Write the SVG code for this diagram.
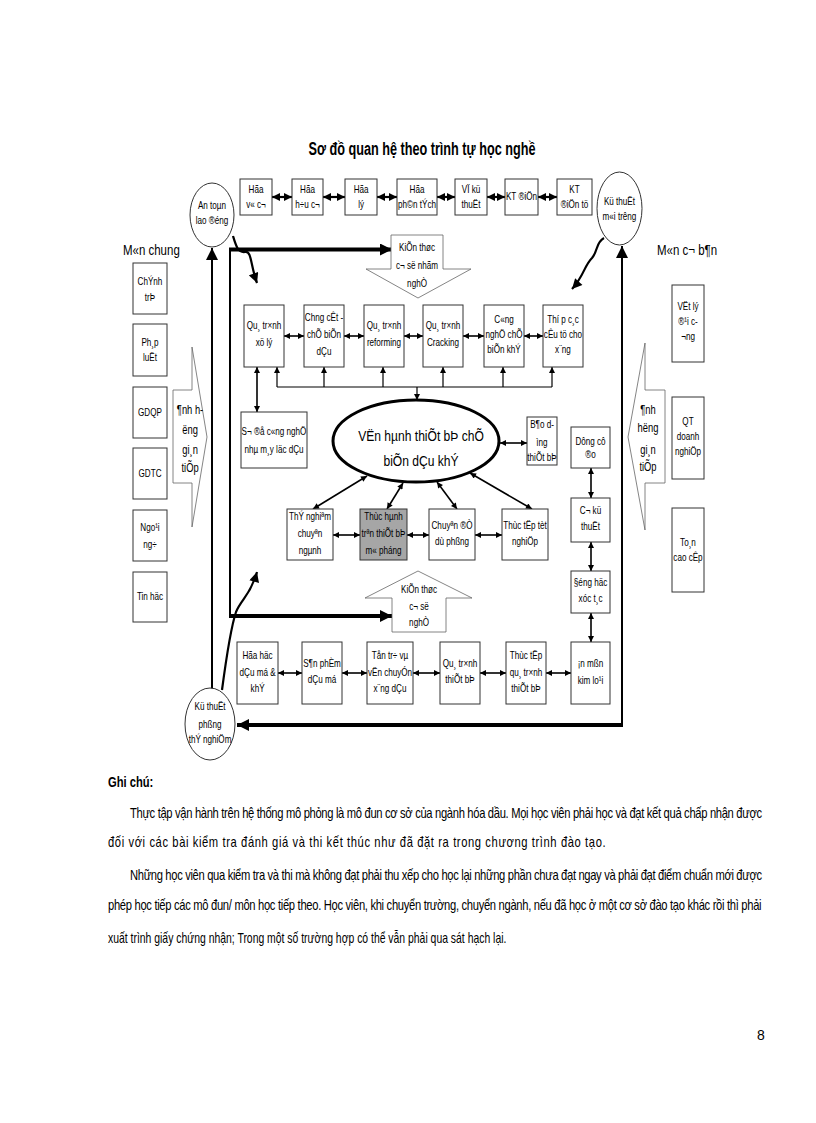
<svg xmlns="http://www.w3.org/2000/svg" width="816" height="1123" viewBox="0 0 816 1123">
<style>
.t{font-family:"Liberation Sans",Arial,sans-serif;font-size:10.4px;text-anchor:middle;fill:#000;transform-box:fill-box;transform-origin:center;transform:scaleX(0.78)}
.tl{font-size:12px}
.te{font-size:15.5px}
.th{font-family:"Liberation Sans",Arial,sans-serif;font-size:14px;fill:#000;transform-box:fill-box;transform-origin:left center;transform:scaleX(0.82)}
.n{font-family:"Liberation Sans",Arial,sans-serif;font-size:14px;fill:#000}
.box{fill:#fff;stroke:#333;stroke-width:1}
.gray{fill:#a6a6a6;stroke:#333;stroke-width:1}
.shape{fill:#fff;stroke:#666;stroke-width:0.8}
.c{fill:#fff;stroke:#333;stroke-width:1}
.a{stroke:#000;stroke-width:1.6;fill:none;marker-start:url(#ah);marker-end:url(#ah)}
.a1{stroke:#000;stroke-width:1.2;fill:none;marker-end:url(#ah)}
.aT{stroke:#000;stroke-width:2.2;fill:none;marker-start:url(#ahB);marker-end:url(#ahB)}
.thick{stroke:#000;stroke-width:4;fill:none}
.med{stroke:#000;stroke-width:2;fill:none}
.wave{stroke:#000;stroke-width:2.2;fill:none;marker-end:url(#ahW)}
</style>
<defs>
<marker id="ah" viewBox="0 0 10 10" refX="10" refY="5" markerWidth="7" markerHeight="6" markerUnits="userSpaceOnUse" orient="auto-start-reverse"><path d="M0,0 L10,5 L0,10 z" fill="#000"/></marker>
<marker id="ahB" viewBox="0 0 10 10" refX="10" refY="5" markerWidth="9" markerHeight="8" markerUnits="userSpaceOnUse" orient="auto-start-reverse"><path d="M0,0 L10,5 L0,10 z" fill="#000"/></marker>
<marker id="ahL" viewBox="0 0 10 10" refX="10" refY="5" markerWidth="14" markerHeight="12" markerUnits="userSpaceOnUse" orient="auto-start-reverse"><path d="M0,0 L10,5 L0,10 z" fill="#000"/></marker>
<marker id="ahW" viewBox="0 0 10 10" refX="10" refY="5" markerWidth="11" markerHeight="10" markerUnits="userSpaceOnUse" orient="auto"><path d="M0,0 L10,5 L0,10 z" fill="#000"/></marker>
</defs>
<rect width="816" height="1123" fill="#fff"/>

<text x="422" y="155" font-family="Liberation Sans, Arial, sans-serif" font-size="18" font-weight="bold" text-anchor="middle" textLength="227" lengthAdjust="spacingAndGlyphs">Sơ đồ quan hệ theo trình tự học nghề</text>

<g id="connectors">
  <line class="aT" x1="272" y1="197" x2="292" y2="197"/>
  <line class="aT" x1="323" y1="197" x2="345" y2="197"/>
  <line class="aT" x1="377" y1="197" x2="397" y2="197"/>
  <line class="aT" x1="437" y1="197" x2="455" y2="197"/>
  <line class="aT" x1="487" y1="197" x2="505" y2="197"/>
  <line class="aT" x1="538" y1="197" x2="557" y2="197"/>
  <line class="med" x1="230" y1="249" x2="230" y2="617"/>
  <line class="thick" x1="229" y1="249.5" x2="392" y2="249.5" marker-end="url(#ahL)"/>
  <line class="thick" x1="229" y1="616" x2="392" y2="616" marker-end="url(#ahL)"/>
  <line class="med" x1="212" y1="690" x2="212" y2="248" marker-end="url(#ahL)"/>
  <line class="med" x1="622" y1="726" x2="622" y2="246" marker-end="url(#ahL)"/>
  <line class="thick" x1="623" y1="725" x2="237" y2="725" marker-end="url(#ahL)"/>
  <path class="wave" d="M233 236 C236 246,238 253,245 252 C252 251,250 264,257 283"/>
  <path class="wave" d="M604 238 C596 242,598 251,592 258 C584 266,584 276,572 289"/>
  <path class="wave" d="M222 690 C226 660,230 630,236 612 C242 598,250 596,257 572"/>
  <line class="a" x1="284" y1="336" x2="304" y2="336"/>
  <line class="a" x1="344" y1="336" x2="364" y2="336"/>
  <line class="a" x1="404" y1="336" x2="423" y2="336"/>
  <line class="a" x1="463" y1="336" x2="484" y2="336"/>
  <line class="a" x1="524" y1="336" x2="543" y2="336"/>
  <line stroke="#000" stroke-width="1.2" x1="277" y1="387" x2="552" y2="387"/>
  <line class="a1" x1="277" y1="387" x2="277" y2="367"/>
  <line class="a1" x1="324" y1="387" x2="324" y2="367"/>
  <line class="a1" x1="383" y1="387" x2="383" y2="367"/>
  <line class="a1" x1="443" y1="387" x2="443" y2="367"/>
  <line class="a1" x1="503" y1="387" x2="503" y2="367"/>
  <line class="a1" x1="552" y1="387" x2="552" y2="367"/>
  <line class="a1" x1="417" y1="387" x2="417" y2="400"/>
  <line class="a" x1="257" y1="367" x2="257" y2="412"/>
  <line class="a" x1="500" y1="443" x2="527" y2="443"/>
  <line class="a" x1="367" y1="476" x2="313" y2="509"/>
  <line class="a" x1="403" y1="483" x2="387" y2="509"/>
  <line class="a" x1="437" y1="482" x2="457" y2="509"/>
  <line class="a" x1="470" y1="473" x2="532" y2="509"/>
  <line class="a" x1="333" y1="535" x2="360" y2="535"/>
  <line class="a" x1="407" y1="535" x2="429" y2="535"/>
  <line class="a" x1="475" y1="535" x2="502" y2="535"/>
  <line class="a" x1="591" y1="468" x2="591" y2="498"/>
  <line class="a" x1="591" y1="542" x2="591" y2="571"/>
  <line class="a" x1="591" y1="613" x2="591" y2="642"/>
  <line class="a" x1="278" y1="673" x2="302" y2="673"/>
  <line class="a" x1="342" y1="673" x2="367" y2="673"/>
  <line class="a" x1="413" y1="673" x2="440" y2="673"/>
  <line class="a" x1="480" y1="673" x2="506" y2="673"/>
  <line class="a" x1="546" y1="673" x2="571" y2="673"/>
</g>

<g id="an-toan">
  <ellipse class="c" cx="212" cy="215" rx="22" ry="32"/>
  <text class="t"><tspan x="212" y="209">An toµn</tspan><tspan x="212" y="224">lao ®éng</tspan></text>
</g>
<g id="ky-thuat-moi-truong">
  <ellipse class="c" cx="619.5" cy="208.5" rx="22.5" ry="36.5"/>
  <text class="t"><tspan x="619.5" y="205.5">Kü thuËt</tspan><tspan x="619.5" y="220.5">m«i trêng</tspan></text>
</g>
<g id="ky-thuat-ptn">
  <ellipse class="c" cx="210" cy="724" rx="25" ry="36"/>
  <text class="t"><tspan x="210" y="710.5">Kü thuËt</tspan><tspan x="210" y="728.5">phßng</tspan><tspan x="210" y="743.5">thÝ nghiÖm</tspan></text>
</g>

<g id="hoa-vo-co"><rect class="box" x="240" y="179" width="32" height="36"/><text class="t"><tspan x="256" y="193.5">Hãa</tspan><tspan x="256" y="208.5">v« c¬</tspan></text></g>
<g id="hoa-huu-co"><rect class="box" x="292" y="179" width="31" height="36"/><text class="t"><tspan x="307.5" y="193.5">Hãa</tspan><tspan x="307.5" y="208.5">h÷u c¬</tspan></text></g>
<g id="hoa-ly"><rect class="box" x="345" y="179" width="32" height="36"/><text class="t"><tspan x="361" y="193.5">Hãa</tspan><tspan x="361" y="208.5">lý</tspan></text></g>
<g id="hoa-phan-tich"><rect class="box" x="397" y="179" width="40" height="36"/><text class="t"><tspan x="417" y="193.5">Hãa</tspan><tspan x="417" y="208.5">ph©n tÝch</tspan></text></g>
<g id="ve-ky-thuat"><rect class="box" x="455" y="179" width="32" height="36"/><text class="t"><tspan x="471" y="193.5">VÏ kü</tspan><tspan x="471" y="208.5">thuËt</tspan></text></g>
<g id="kt-dien"><rect class="box" x="505" y="179" width="33" height="36"/><text class="t" x="521.5" y="200.5">KT ®iÖn</text></g>
<g id="kt-dien-tu"><rect class="box" x="557" y="179" width="35" height="36"/><text class="t"><tspan x="574.5" y="193.5">KT</tspan><tspan x="574.5" y="208.5">®iÖn tö</tspan></text></g>

<text class="th" x="123" y="255">M«n chung</text>
<text class="th" x="657" y="255">M«n c¬ b¶n</text>

<g id="chinh-tri"><rect class="box" x="133" y="263" width="34" height="51"/><text class="t"><tspan x="150" y="285.5">ChÝnh</tspan><tspan x="150" y="301.5">trÞ</tspan></text></g>
<g id="phap-luat"><rect class="box" x="133" y="324" width="34" height="52"/><text class="t"><tspan x="150" y="346.5">Ph¸p</tspan><tspan x="150" y="361.5">luËt</tspan></text></g>
<g id="gdqp"><rect class="box" x="133" y="387" width="34" height="51"/><text class="t" x="150" y="416">GDQP</text></g>
<g id="gdtc"><rect class="box" x="133" y="448" width="34" height="51"/><text class="t" x="150" y="477">GDTC</text></g>
<g id="ngoai-ngu"><rect class="box" x="133" y="510" width="34" height="51"/><text class="t"><tspan x="150" y="531.5">Ngo¹i</tspan><tspan x="150" y="548.5">ng÷</tspan></text></g>
<g id="tin-hoc"><rect class="box" x="133" y="572" width="34" height="50"/><text class="t" x="150" y="600.5">Tin häc</text></g>

<g id="anh-huong-trai">
  <polygon class="shape" points="173,390 192,390 192,347 207,437 192,527 192,483 173,483"/>
  <text class="t tl"><tspan x="190" y="414">¶nh h-</tspan><tspan x="190" y="434">ëng</tspan><tspan x="190" y="454">gi¸n</tspan><tspan x="190" y="472">tiÕp</tspan></text>
</g>

<g id="vat-ly"><rect class="box" x="672" y="285" width="32" height="77"/><text class="t"><tspan x="688" y="310.5">VËt lý</tspan><tspan x="688" y="325.5">®¹i c-</tspan><tspan x="688" y="340.5">¬ng</tspan></text></g>
<g id="qt-doanh-nghiep"><rect class="box" x="672" y="397" width="32" height="82"/><text class="t"><tspan x="688" y="425.5">QT</tspan><tspan x="688" y="440.5">doanh</tspan><tspan x="688" y="455.5">nghiÖp</tspan></text></g>
<g id="toan-cao-cap"><rect class="box" x="672" y="508" width="32" height="84"/><text class="t"><tspan x="688" y="546.5">To¸n</tspan><tspan x="688" y="561.5">cao cÊp</tspan></text></g>

<g id="anh-huong-phai">
  <polygon class="shape" points="665,390 645,390 645,343 628,437 645,530 645,483 665,483"/>
  <text class="t tl"><tspan x="648" y="414">¶nh</tspan><tspan x="648" y="432">hëng</tspan><tspan x="648" y="454">gi¸n</tspan><tspan x="648" y="471">tiÕp</tspan></text>
</g>

<g id="kien-thuc-nhom-nghe">
  <polygon class="shape" points="391,235 443,235 443,269 471,269 418,298 366,269 391,269"/>
  <text class="t"><tspan x="417" y="251.5">KiÕn thøc</tspan><tspan x="417" y="269.5">c¬ së nhãm</tspan><tspan x="417" y="287.5">nghÒ</tspan></text>
</g>
<g id="kien-thuc-co-so">
  <polygon class="shape" points="418,571 472,598 446,598 446,632 392,632 392,598 365,598"/>
  <text class="t"><tspan x="419" y="593.5">KiÕn thøc</tspan><tspan x="419" y="610.5">c¬ së</tspan><tspan x="419" y="626.5">nghÒ</tspan></text>
</g>

<g id="qt-xu-ly"><rect class="box" x="244" y="305" width="40" height="62"/><text class="t"><tspan x="264" y="329">Qu¸ tr×nh</tspan><tspan x="264" y="346.5">xö lý</tspan></text></g>
<g id="chung-cat"><rect class="box" x="304" y="305" width="40" height="62"/><text class="t"><tspan x="324" y="321.5">Chng cÊt -</tspan><tspan x="324" y="338.5">chÕ biÕn</tspan><tspan x="324" y="355.5">dÇu</tspan></text></g>
<g id="qt-reforming"><rect class="box" x="364" y="305" width="40" height="62"/><text class="t"><tspan x="384" y="329">Qu¸ tr×nh</tspan><tspan x="384" y="346.5">reforming</tspan></text></g>
<g id="qt-cracking"><rect class="box" x="423" y="305" width="40" height="62"/><text class="t"><tspan x="443" y="329">Qu¸ tr×nh</tspan><tspan x="443" y="346.5">Cracking</tspan></text></g>
<g id="cn-khi"><rect class="box" x="484" y="305" width="40" height="62"/><text class="t"><tspan x="504" y="323.5">C«ng</tspan><tspan x="504" y="338.5">nghÖ chÕ</tspan><tspan x="504" y="353.5">biÕn khÝ</tspan></text></g>
<g id="cau-tu-xang"><rect class="box" x="543" y="305" width="40" height="62"/><text class="t"><tspan x="563" y="323.5">Thí p c¸c</tspan><tspan x="563" y="338.5">cÊu tö cho</tspan><tspan x="563" y="353.5">x¨ng</tspan></text></g>

<g id="so-do-cn"><rect class="box" x="241" y="412" width="66" height="56"/><text class="t"><tspan x="274" y="435.5">S¬ ®å c«ng nghÖ</tspan><tspan x="274" y="453.5">nhµ m¸y läc dÇu</tspan></text></g>

<g id="van-hanh">
  <ellipse cx="416" cy="441" rx="83" ry="41" fill="#fff" stroke="#000" stroke-width="3"/>
  <text class="t te"><tspan x="421" y="441">VËn hµnh thiÕt bÞ chÕ</tspan><tspan x="421" y="466">biÕn dÇu khÝ</tspan></text>
</g>

<g id="bao-duong"><rect class="box" x="527" y="417" width="30" height="48"/><text class="t"><tspan x="542" y="428.5">B¶o d-</tspan><tspan x="542" y="446.5">ìng</tspan><tspan x="542" y="461.5">thiÕt bÞ</tspan></text></g>
<g id="dung-cu-do"><rect class="box" x="571" y="427" width="39" height="41"/><text class="t"><tspan x="590.5" y="445.5">Dông cô</tspan><tspan x="590.5" y="458.5">®o</tspan></text></g>
<g id="co-ky-thuat"><rect class="box" x="571" y="498" width="39" height="44"/><text class="t"><tspan x="590.5" y="514.5">C¬ kü</tspan><tspan x="590.5" y="530.5">thuËt</tspan></text></g>
<g id="dong-hoc"><rect class="box" x="571" y="571" width="39" height="42"/><text class="t"><tspan x="590.5" y="586.5">§éng häc</tspan><tspan x="590.5" y="602.5">xóc t¸c</tspan></text></g>

<g id="thi-nghiem-cn"><rect class="box" x="287" y="509" width="46" height="51"/><text class="t"><tspan x="310" y="520.5">ThÝ nghiªm</tspan><tspan x="310" y="537.5">chuyªn</tspan><tspan x="310" y="554.5">ngµnh</tspan></text></g>
<g id="thuc-hanh-mo-phong"><rect class="gray" x="360" y="509" width="47" height="51"/><text class="t"><tspan x="383.5" y="520.5">Thùc hµnh</tspan><tspan x="383.5" y="537.5">trªn thiÕt bÞ</tspan><tspan x="383.5" y="554.5">m« pháng</tspan></text></g>
<g id="chuyen-de"><rect class="box" x="429" y="509" width="46" height="51"/><text class="t"><tspan x="452" y="529.5">Chuyªn ®Ò</tspan><tspan x="452" y="545.5">dù phßng</tspan></text></g>
<g id="thuc-tap-tn"><rect class="box" x="502" y="509" width="46" height="51"/><text class="t"><tspan x="525" y="529.5">Thùc tËp tèt</tspan><tspan x="525" y="545.5">nghiÖp</tspan></text></g>

<g id="hoa-hoc-dau-mo"><rect class="box" x="237" y="642" width="41" height="62"/><text class="t"><tspan x="257.5" y="659.5">Hãa häc</tspan><tspan x="257.5" y="676.5">dÇu má &amp;</tspan><tspan x="257.5" y="692.5">khÝ</tspan></text></g>
<g id="san-pham"><rect class="box" x="302" y="642" width="40" height="62"/><text class="t"><tspan x="322" y="667.5">S¶n phÈm</tspan><tspan x="322" y="683.5">dÇu má</tspan></text></g>
<g id="ton-tru"><rect class="box" x="367" y="642" width="46" height="62"/><text class="t"><tspan x="390" y="659.5">Tån tr÷ vµ</tspan><tspan x="390" y="676.5">vËn chuyÓn</tspan><tspan x="390" y="692.5">x¨ng dÇu</tspan></text></g>
<g id="qt-thiet-bi"><rect class="box" x="440" y="642" width="40" height="62"/><text class="t"><tspan x="460" y="667.5">Qu¸ tr×nh</tspan><tspan x="460" y="683.5">thiÕt bÞ</tspan></text></g>
<g id="thuc-tap-qt"><rect class="box" x="506" y="642" width="40" height="62"/><text class="t"><tspan x="526" y="659.5">Thùc tËp</tspan><tspan x="526" y="676.5">qu¸ tr×nh</tspan><tspan x="526" y="692.5">thiÕt bÞ</tspan></text></g>
<g id="an-mon"><rect class="box" x="571" y="642" width="39" height="62"/><text class="t"><tspan x="590.5" y="667.5">¡n mßn</tspan><tspan x="590.5" y="684.5">kim lo¹i</tspan></text></g>

<g id="notes" transform="translate(108,0) scale(0.8,1)">
  <text class="n" x="0" y="787" font-weight="bold">Ghi chú:</text>
  <text class="n" x="27.5" y="818" textLength="790" lengthAdjust="spacing">Thực tập vận hành trên hệ thống mô phỏng là mô đun cơ sở của ngành hóa dầu. Mọi học viên phải học và đạt kết quả chấp nhận được</text>
  <text class="n" x="0" y="847" textLength="622" lengthAdjust="spacing">đối với các bài kiểm tra đánh giá và thi kết thúc như đã đặt ra trong chương trình đào tạo.</text>
  <text class="n" x="27.5" y="880" textLength="790" lengthAdjust="spacing">Những học viên qua kiểm tra và thi mà không đạt phải thu xếp cho học lại những phần chưa đạt ngay và phải đạt điểm chuẩn mới được</text>
  <text class="n" x="0" y="910" textLength="817" lengthAdjust="spacing">phép học tiếp các mô đun/ môn học tiếp theo. Học viên, khi chuyển trường, chuyển ngành, nếu đã học ở một cơ sở đào tạo khác rồi thì phải</text>
  <text class="n" x="0" y="943" textLength="498" lengthAdjust="spacingAndGlyphs">xuất trình giấy chứng nhận; Trong một số trường hợp có thể vẫn phải qua sát hạch lại.</text>
</g>
<text class="n" x="757" y="1040">8</text>
</svg>
